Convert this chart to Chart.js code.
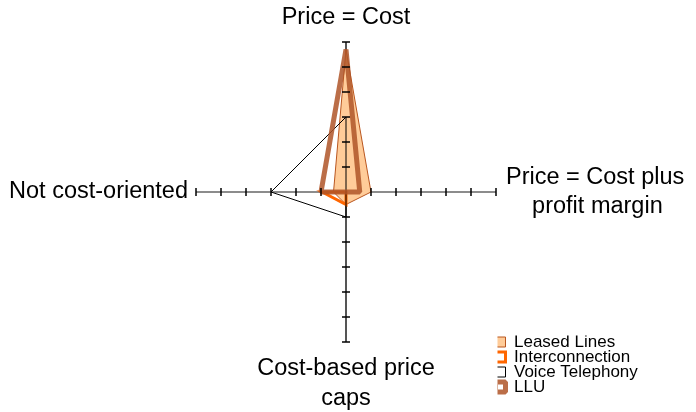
<!DOCTYPE html>
<html>
<head>
<meta charset="utf-8">
<style>
  html, body { margin: 0; padding: 0; background: #fff; }
  #wrap { width: 696px; height: 412px; }
</style>
</head>
<body>
<div id="wrap"><canvas id="radar"></canvas></div>
<script src="https://cdn.jsdelivr.net/npm/chart.js"></script>
<script>
  // categories (clockwise from the top)
  const categories = [
    'Price = Cost',
    ['Price = Cost plus', '    profit margin'],
    ['Cost-based price', 'caps'],
    'Not cost-oriented'
  ];
  // series values
  const leasedLines = [5.7, 1.0, 0.5, 0.5];
  const interconnection = [0, 0, 0.5, 0.95];
  const voiceTelephony = [3.0, 0, 1.0, 3.0];
  const llu = [5.7, 0.55, 0, 1.0];
  // value axis
  const axisMin = 0;
  const axisMax = 6;
  const axisStep = 1;

  // plot geometry: centre and radius of the value axis
  const plotX = 346;
  const plotY = 192;
  const plotR = 150;
  const labelPad = [10, 10, 12, 8];

  // tick marks across the four axis lines
  const axisTicks = {
    id: 'axisTicks',
    afterDraw(chart) {
      const r = chart.scales.r;
      const ctx = chart.ctx;
      ctx.save();
      ctx.strokeStyle = '#000';
      ctx.lineWidth = 1.5;
      for (let i = 0; i < categories.length; i++) {
        r.ticks.forEach(t => {
          if (t.value === axisMin) return;
          const p = r.getPointPositionForValue(i, t.value);
          const a = p.angle + Math.PI / 2;
          ctx.beginPath();
          ctx.moveTo(p.x - Math.cos(a) * 4, p.y - Math.sin(a) * 4);
          ctx.lineTo(p.x + Math.cos(a) * 4, p.y + Math.sin(a) * 4);
          ctx.stroke();
        });
      }
      ctx.restore();
    }
  };

  // put the legend in the lower right corner
  const legendCorner = {
    id: 'legendCorner',
    afterLayout(chart) {
      const lg = chart.legend;
      lg.left = 497.5;
      lg.top = 335.5;
      lg.bottom = 412;
    }
  };

  const ctx = document.getElementById('radar').getContext('2d');
  new Chart(ctx, {
    type: 'radar',
    data: {
      labels: categories,
      datasets: [
        {
          label: 'Leased Lines',
          data: leasedLines,
          fill: true,
          backgroundColor: '#FFCC99',
          borderColor: '#B9561F',
          borderWidth: 1,
          pointRadius: 0,
          order: 3
        },
        {
          label: 'Interconnection',
          data: interconnection,
          fill: false,
          backgroundColor: '#fff',
          borderColor: '#FF6600',
          borderWidth: 3,
          pointRadius: 0,
          order: 2
        },
        {
          label: 'Voice Telephony',
          data: voiceTelephony,
          fill: false,
          backgroundColor: '#fff',
          borderColor: '#000',
          borderWidth: 1,
          pointRadius: 0,
          order: 1
        },
        {
          label: 'LLU',
          data: llu,
          fill: false,
          backgroundColor: '#fff',
          borderColor: 'rgba(175, 85, 40, 0.85)',
          borderWidth: 5,
          borderJoinStyle: 'bevel',
          pointRadius: 0,
          order: 0
        }
      ]
    },
    options: {
      responsive: true,
      maintainAspectRatio: false,
      animation: false,
      elements: {
        line: { tension: 0 }
      },
      scales: {
        r: {
          min: axisMin,
          max: axisMax,
          z: 1,
          // fix the centre and radius instead of the automatic fit
          beforeFit: s => {
            s.setCenterPoint = function () {
              this.xCenter = plotX;
              this.yCenter = plotY;
              this.drawingArea = plotR;
            };
          },
          ticks: { stepSize: axisStep, display: false },
          grid: { display: false },
          angleLines: {
            display: true,
            lineWidth: 2,
            color: c => (c.index % 2 === 0 ? '#555' : '#8c8c8c')
          },
          pointLabels: {
            padding: c => labelPad[c.index],
            color: '#000',
            font: { family: 'Liberation Sans', size: 23.5, lineHeight: 1.25 }
          }
        }
      },
      plugins: {
        legend: {
          position: 'chartArea',
          align: 'start',
          labels: {
            boxWidth: 10,
            boxHeight: 10,
            padding: -2,
            color: '#000',
            font: { family: 'Liberation Sans', size: 17 },
            sort: (a, b) => a.datasetIndex - b.datasetIndex
          }
        },
        tooltip: { enabled: false }
      }
    },
    plugins: [axisTicks, legendCorner]
  });
</script>
</body>
</html>
